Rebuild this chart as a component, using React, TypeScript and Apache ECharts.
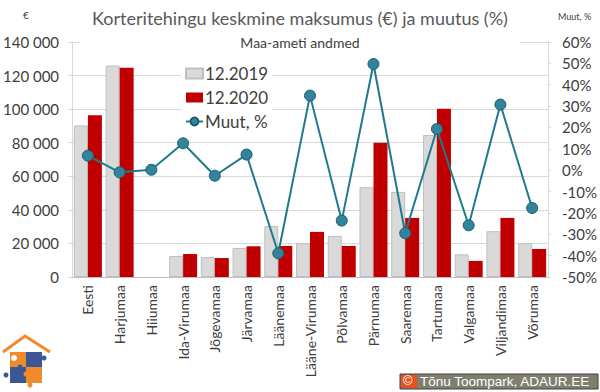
import React, { useEffect, useRef } from "react";
import * as echarts from "echarts";

const categories = ["Eesti", "Harjumaa", "Hiiumaa", "Ida-Virumaa", "Jõgevamaa", "Järvamaa", "Läänemaa", "Lääne-Virumaa", "Põlvamaa", "Pärnumaa", "Saaremaa", "Tartumaa", "Valgamaa", "Viljandimaa", "Võrumaa"];
const price2019: (number | null)[] = [90300, 126000, null, 12500, 11900, 17300, 30400, 20100, 24500, 53500, 50700, 84600, 13500, 27300, 20100];
const price2020: (number | null)[] = [96300, 124600, null, 13700, 11300, 18300, 18500, 26900, 18500, 80000, 35200, 100300, 9600, 35200, 16700];
const changePct: number[] = [6.8, -1.0, 0.2, 12.6, -2.6, 7.3, -38.9, 34.9, -23.6, 49.7, -29.5, 19.3, -25.8, 30.7, -17.7];
const seriesNames = ["12.2019", "12.2020", "Muut, %"];

const FONT = "Lato, 'Open Sans', sans-serif";

export default function App() {
  const ref = useRef<HTMLDivElement>(null);
  useEffect(() => {
    if (!ref.current) return;
    const chart = echarts.init(ref.current, null, { renderer: "svg" });
    chart.setOption({
      animation: false,
      backgroundColor: "#fff",
      textStyle: { fontFamily: FONT },
      title: [
        {
          text: "Korteritehingu keskmine maksumus (€) ja muutus (%)",
          left: "center",
          top: 4,
          textStyle: { fontSize: 18, fontWeight: "normal", color: "#595959", fontFamily: FONT },
        },
        {
          text: "Maa-ameti andmed",
          left: "center",
          top: 33,
          padding: [2, 160, 2, 160],
          backgroundColor: "#fff",
          textStyle: { fontSize: 14, fontWeight: "normal", color: "#404040", fontFamily: FONT },
        },
      ],
      legend: {
        orient: "vertical",
        left: 181,
        top: 63,
        backgroundColor: "#fff",
        padding: [2, 4, 2, 4],
        itemGap: 7,
        itemWidth: 17,
        itemHeight: 10,
        data: [
          { name: seriesNames[0], icon: "rect" },
          { name: seriesNames[1], icon: "rect" },
          { name: seriesNames[2] },
        ],
        textStyle: { fontSize: 17, color: "#404040", fontFamily: FONT, padding: [0, 0, 0, -3] },
      },
      grid: { left: 69, right: 50, top: 42, height: 235, containLabel: false },
      xAxis: {
        type: "category",
        data: categories,
        axisLine: { lineStyle: { color: "#bfbfbf" } },
        axisTick: { show: false },
        axisLabel: { rotate: 90, fontSize: 14, color: "#404040", margin: 8, interval: 0, fontFamily: FONT },
      },
      yAxis: [
        {
          type: "value",
          min: 0,
          max: 140000,
          interval: 20000,
          axisLine: { show: true, lineStyle: { color: "#d9d9d9" } },
          axisTick: { show: true, length: 4, lineStyle: { color: "#d9d9d9" } },
          splitLine: { lineStyle: { color: "#d9d9d9" } },
          axisLabel: {
            fontSize: 15,
            color: "#404040",
            margin: 13,
            fontFamily: FONT,
            formatter: (v: number) => String(v).replace(/\B(?=(\d{3})+(?!\d))/g, " "),
          },
        },
        {
          type: "value",
          min: -50,
          max: 60,
          interval: 10,
          position: "right",
          axisLine: { show: true, lineStyle: { color: "#d9d9d9" } },
          axisTick: { show: true, length: 3, lineStyle: { color: "#d9d9d9" } },
          splitLine: { show: false },
          axisLabel: { fontSize: 15, color: "#404040", margin: 14, fontFamily: FONT, formatter: (v: number) => `${v}%` },
        },
      ],
      series: [
        {
          name: seriesNames[0],
          type: "bar",
          data: price2019,
          barWidth: 14,
          barGap: "0%",
          itemStyle: { color: "#d9d9d9", borderColor: "#bfbfbf", borderWidth: 1 },
          z: 2,
        },
        {
          name: seriesNames[1],
          type: "bar",
          data: price2020,
          barWidth: 14,
          barGap: "0%",
          itemStyle: { color: "#c00000" },
          z: 2,
        },
        {
          name: seriesNames[2],
          type: "line",
          yAxisIndex: 1,
          data: changePct,
          symbol: "circle",
          symbolSize: 11,
          lineStyle: { color: "#1f7a8c", width: 2 },
          itemStyle: { color: "#31849b", borderColor: "#1d5e6e", borderWidth: 1 },
          z: 5,
        },
      ],
      graphic: [
        { type: "text", left: 23, top: 10, style: { text: "€", fontSize: 10, fill: "#404040", fontFamily: FONT } },
        { type: "text", left: 558, top: 12, style: { text: "Muut, %", fontSize: 9, fill: "#404040", fontFamily: FONT } },
        // logo
        { type: "polyline", shape: { points: [[3, 352], [25, 336], [50, 352]] }, style: { stroke: "#f08a2a", lineWidth: 3, fill: "none" } },
        { type: "rect", shape: { x: 10, y: 352, width: 16, height: 15 }, style: { fill: "#f08a2a" } },
        { type: "rect", shape: { x: 26, y: 352, width: 16, height: 15 }, style: { fill: "#3b5795" } },
        { type: "rect", shape: { x: 10, y: 367, width: 16, height: 16 }, style: { fill: "#3b5795" } },
        { type: "rect", shape: { x: 26, y: 367, width: 16, height: 16 }, style: { fill: "#f08a2a" } },
        { type: "circle", shape: { cx: 14, cy: 358, r: 3 }, style: { fill: "#fff" } },
        { type: "circle", shape: { cx: 44, cy: 358, r: 2.5 }, style: { fill: "#3b5795" } },
        { type: "circle", shape: { cx: 6, cy: 375, r: 2.5 }, style: { fill: "#3b5795" } },
        { type: "circle", shape: { cx: 30, cy: 385, r: 2.5 }, style: { fill: "#f08a2a" } },
        { type: "circle", shape: { cx: 26, cy: 374, r: 2.5 }, style: { fill: "#f08a2a" } },
        { type: "circle", shape: { cx: 20, cy: 367, r: 2.5 }, style: { fill: "#3b5795" } },
        // copyright box
        { type: "rect", shape: { x: 400, y: 374, width: 198, height: 15 }, style: { fill: "#807f6e", stroke: "#404040", lineWidth: 1 } },
        { type: "rect", shape: { x: 401, y: 375, width: 16, height: 13 }, style: { fill: "#e8501e" } },
        { type: "text", left: 403, top: 374, style: { text: "©", fontSize: 13, fill: "#fff", fontFamily: "'Liberation Sans', sans-serif" } },
        { type: "text", left: 420, top: 374, style: { text: "Tõnu Toompark, ADAUR.EE", fontSize: 13.5, fill: "#fff", fontFamily: "'Liberation Sans', sans-serif" } },
      ],
    });
    return () => chart.dispose();
  }, []);
  return <div ref={ref} style={{ width: 600, height: 392, position: "absolute", left: 0, top: 0 }} />;
}
